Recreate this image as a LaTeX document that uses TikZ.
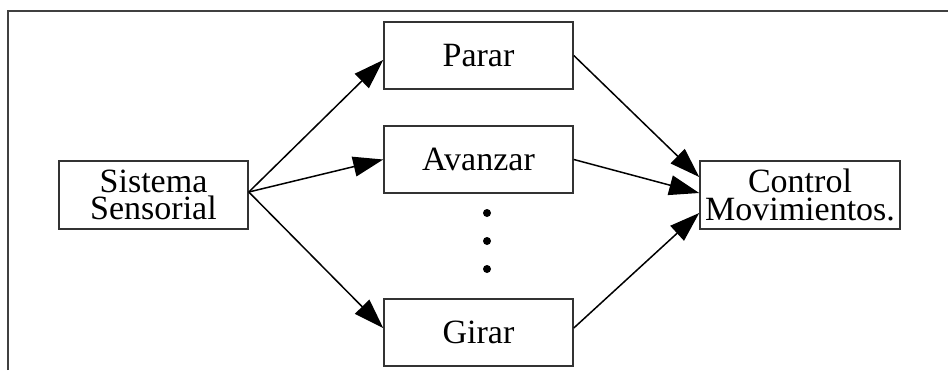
\documentclass[tikz,border=0pt]{standalone}
\usepackage{fontspec}
\setmainfont{Liberation Serif}
\usetikzlibrary{arrows.meta}

\begin{document}
\begin{tikzpicture}[x=1pt,y=-1pt,
    caja/.style={draw=black!80,line width=1.6pt,minimum width=189pt,minimum height=67pt,
      inner sep=1pt,align=center,font=\fontsize{34}{27.5}\selectfont},
    flecha/.style={line width=1.5pt,-{Triangle[length=30pt,width=20pt]}},
    marco/.style={draw=black!75,line width=2pt}]
  \useasboundingbox (0,0) rectangle (948,370);

  % 枠
  \draw[marco] (8,370) -- (8,11) -- (948,11);

  % ブロック
  \node[caja,minimum height=68pt] (sens) at (153.5,195) {Sistema\\Sensorial};
  \node[caja] (parar) at (478.5,55.5) {Parar};
  \node[caja] (avanzar) at (478.5,159.5) {Avanzar};
  \node[caja] (girar) at (478.5,332.5) {Girar};
  \node[caja,minimum width=200pt,minimum height=68pt] (ctrl) at (800,195) {Control\\Movimientos.};

  % 省略の点
  \foreach \y in {213,241,269}
    \fill (487,\y) circle[radius=4pt];

  % 矢印
  \coordinate (salida) at ([yshift=3pt]sens.east);
  \draw[flecha] (salida) -- ([yshift=-4.5pt]parar.west);
  \draw[flecha] (salida) -- (avanzar.west);
  \draw[flecha] (salida) -- ([yshift=4.5pt]girar.west);
  \draw[flecha] (parar.east) -- ([yshift=18pt]ctrl.west);
  \draw[flecha] (avanzar.east) -- ([yshift=2pt]ctrl.west);
  \draw[flecha] ([yshift=4.5pt]girar.east) -- ([yshift=-18pt]ctrl.west);
\end{tikzpicture}
\end{document}
